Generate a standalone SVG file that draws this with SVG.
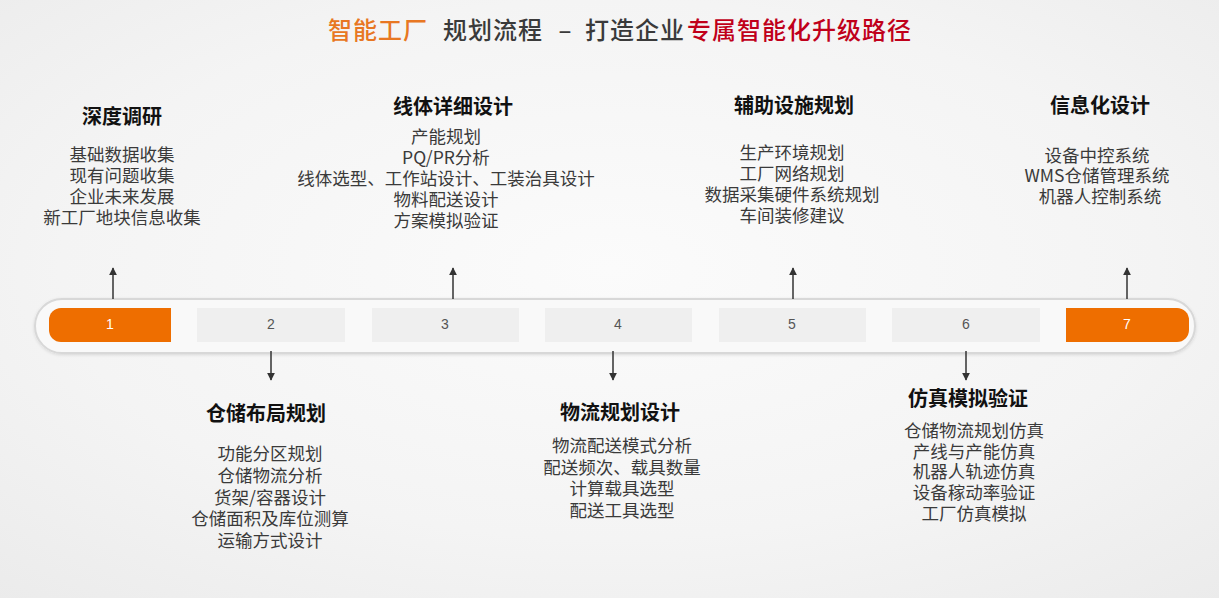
<svg xmlns="http://www.w3.org/2000/svg" width="1219" height="598" viewBox="0 0 1219 598">
  <defs>
    <radialGradient id="bg" cx="0.5" cy="0.45" r="0.75">
      <stop offset="0" stop-color="#fbfbfb"/>
      <stop offset="0.6" stop-color="#f4f4f4"/>
      <stop offset="1" stop-color="#ebebeb"/>
    </radialGradient>
    <filter id="sh" x="-5%" y="-30%" width="110%" height="160%">
      <feDropShadow dx="0" dy="1" stdDeviation="1.5" flood-color="#000" flood-opacity="0.12"/>
    </filter>
    <marker id="ah" viewBox="0 0 10 10" refX="9" refY="5" markerWidth="8" markerHeight="8" markerUnits="userSpaceOnUse" orient="auto">
      <path d="M0,0 L10,5 L0,10 Z" fill="#333"/>
    </marker>
    <style>
      .hd{font-family:"Noto Sans CJK SC","Liberation Sans",sans-serif;font-size:20px;font-weight:700;fill:#111;text-anchor:middle}
      .it{font-family:"Noto Sans CJK SC","Liberation Sans",sans-serif;font-size:17.5px;fill:#3a3a3a;text-anchor:middle}
      .num{font-family:"Liberation Sans","Noto Sans",sans-serif;font-size:14px;text-anchor:middle}
      .seg{fill:#efefef}
      .segO{fill:#ee6e00}
      .cn{stroke:#333;stroke-width:1.5;fill:none;marker-end:url(#ah)}
      .tt{font-family:"Noto Sans CJK SC","Liberation Sans",sans-serif;font-size:24px;font-weight:500}
    </style>
  </defs>
  <rect width="1219" height="598" fill="url(#bg)"/>

  <g id="title">
    <text class="tt" x="328" y="39" fill="#e87722" letter-spacing="1">智能工厂</text>
    <text class="tt" x="443" y="39" fill="#3a3a3a" letter-spacing="1">规划流程</text>
    <text class="tt" x="565" y="39" fill="#3a3a3a" text-anchor="middle">–</text>
    <text class="tt" x="585" y="39" fill="#3a3a3a" letter-spacing="1">打造企业</text>
    <text class="tt" x="687" y="39" fill="#c0001a" letter-spacing="1">专属智能化升级路径</text>
  </g>

  <g id="timeline">
    <rect x="35" y="299" width="1160" height="54" rx="27" fill="#f9f9f9" stroke="#d8d8d8" stroke-width="2" filter="url(#sh)"/>
  </g>

  <g id="connectors">
    <line class="cn" x1="113" y1="299" x2="113" y2="268"/>
    <line class="cn" x1="453" y1="299" x2="453" y2="268"/>
    <line class="cn" x1="793" y1="299" x2="793" y2="268"/>
    <line class="cn" x1="1127" y1="299" x2="1127" y2="268"/>
    <line class="cn" x1="271" y1="351" x2="271" y2="380"/>
    <line class="cn" x1="613" y1="351" x2="613" y2="380"/>
    <line class="cn" x1="966" y1="351" x2="966" y2="380"/>
  </g>

  <g id="step1">
    <path class="segO" d="M61,308 H171 V342 H61 A12,12 0 0 1 49,330 V320 A12,12 0 0 1 61,308 Z"/>
    <text class="num" x="110" y="329" fill="#fff">1</text>
    <text class="hd" x="122" y="124">深度调研</text>
    <text class="it" x="122" y="161">基础数据收集</text>
    <text class="it" x="122" y="182">现有问题收集</text>
    <text class="it" x="122" y="203">企业未来发展</text>
    <text class="it" x="122" y="224">新工厂地块信息收集</text>
  </g>

  <g id="step2">
    <rect class="seg" x="197" y="308" width="148" height="34"/>
    <text class="num" x="271" y="329" fill="#555">2</text>
    <text class="hd" x="266" y="421">仓储布局规划</text>
    <text class="it" x="270" y="460">功能分区规划</text>
    <text class="it" x="270" y="481.5">仓储物流分析</text>
    <text class="it" x="270" y="503.5">货架/容器设计</text>
    <text class="it" x="270" y="525">仓储面积及库位测算</text>
    <text class="it" x="270" y="547">运输方式设计</text>
  </g>

  <g id="step3">
    <rect class="seg" x="372" y="308" width="147" height="34"/>
    <text class="num" x="445" y="329" fill="#555">3</text>
    <text class="hd" x="453" y="114">线体详细设计</text>
    <text class="it" x="446" y="143">产能规划</text>
    <text class="it" x="446" y="164">PQ/PR分析</text>
    <text class="it" x="446" y="185">线体选型、工作站设计、工装治具设计</text>
    <text class="it" x="446" y="206">物料配送设计</text>
    <text class="it" x="446" y="227">方案模拟验证</text>
  </g>

  <g id="step4">
    <rect class="seg" x="545" y="308" width="147" height="34"/>
    <text class="num" x="618" y="329" fill="#555">4</text>
    <text class="hd" x="620" y="420">物流规划设计</text>
    <text class="it" x="622" y="452">物流配送模式分析</text>
    <text class="it" x="622" y="473.5">配送频次、载具数量</text>
    <text class="it" x="622" y="495">计算载具选型</text>
    <text class="it" x="622" y="516.5">配送工具选型</text>
  </g>

  <g id="step5">
    <rect class="seg" x="719" y="308" width="147" height="34"/>
    <text class="num" x="792" y="329" fill="#555">5</text>
    <text class="hd" x="794" y="113">辅助设施规划</text>
    <text class="it" x="792" y="158.5">生产环境规划</text>
    <text class="it" x="792" y="179.5">工厂网络规划</text>
    <text class="it" x="792" y="200.5">数据采集硬件系统规划</text>
    <text class="it" x="792" y="221.5">车间装修建议</text>
  </g>

  <g id="step6">
    <rect class="seg" x="892" y="308" width="148" height="34"/>
    <text class="num" x="966" y="329" fill="#555">6</text>
    <text class="hd" x="968" y="405.5">仿真模拟验证</text>
    <text class="it" x="974" y="437">仓储物流规划仿真</text>
    <text class="it" x="974" y="457.5">产线与产能仿真</text>
    <text class="it" x="974" y="478">机器人轨迹仿真</text>
    <text class="it" x="974" y="498.5">设备稼动率验证</text>
    <text class="it" x="974" y="520">工厂仿真模拟</text>
  </g>

  <g id="step7">
    <path class="segO" d="M1066,308 H1177 A12,12 0 0 1 1189,320 V330 A12,12 0 0 1 1177,342 H1066 Z"/>
    <text class="num" x="1127" y="329" fill="#fff">7</text>
    <text class="hd" x="1100" y="113">信息化设计</text>
    <text class="it" x="1097" y="162">设备中控系统</text>
    <text class="it" x="1097" y="182">WMS仓储管理系统</text>
    <text class="it" x="1100" y="203">机器人控制系统</text>
  </g>
</svg>
